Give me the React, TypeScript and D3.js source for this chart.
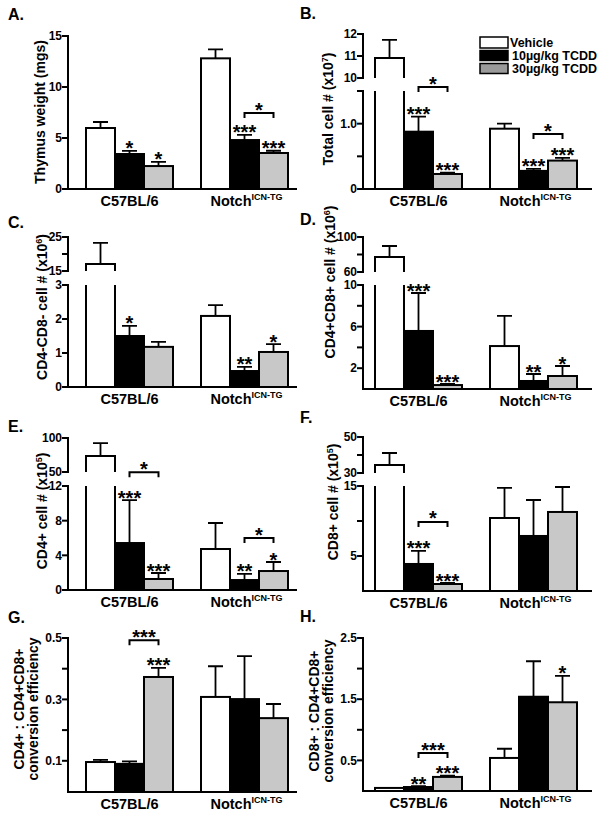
import React from "react";
import * as d3 from "d3";

const groups = ["C57BL/6", "Notch"];
const series = ["Vehicle", "10µg/kg TCDD", "30µg/kg TCDD"];

// Panel A: thymus weight
const aMeans = [[5.98, 3.43, 2.25], [12.81, 4.8, 3.53]];
const aErrs = [[0.59, 0.3, 0.4], [0.88, 0.5, 0.22]];
const aStars = [["", "*", "*"], ["", "***", "***"]];
// Panel B: total cell
const bMeans = [[10.91, 0.877, 0.23], [0.923, 0.277, 0.435]];
const bErrs = [[0.82, 0.23, 0.02], [0.077, 0.03, 0.04]];
const bStars = [["", "***", "***"], ["", "***", "***"]];
// Panel C: CD4-CD8-
const cMeans = [[17.06, 1.5, 1.18], [2.09, 0.47, 1.03]];
const cErrs = [[6.2, 0.3, 0.15], [0.32, 0.12, 0.23]];
const cStars = [["", "*", ""], ["", "**", "*"]];
// Panel D: CD4+CD8+
const dMeans = [[77.1, 5.58, 0.38], [4.13, 0.77, 1.25]];
const dErrs = [[12.6, 3.65, 0.1], [2.9, 0.67, 0.96]];
const dStars = [["", "***", "***"], ["", "**", "*"]];
// Panel E: CD4+
const eMeans = [[73.5, 5.42, 1.27], [4.73, 1.15, 2.19]];
const eErrs = [[19.1, 4.96, 0.69], [3.0, 0.7, 1.04]];
const eStars = [["", "***", "***"], ["", "**", "*"]];
// Panel F: CD8+
const fMeans = [[34.4, 3.86, 1.0], [10.43, 7.86, 11.29]];
const fErrs = [[6.7, 1.86, 0.14], [4.3, 5.14, 3.57]];
const fStars = [["", "***", "***"], ["", "", ""]];
// Panel G: CD4+ conversion
const gMeans = [[0.096, 0.09, 0.373], [0.308, 0.301, 0.239]];
const gErrs = [[0.007, 0.008, 0.03], [0.1, 0.14, 0.046]];
const gStars = [["", "", "***"], ["", "", ""]];
// Panel H: CD8+ conversion
const hMeans = [[0.05, 0.065, 0.23], [0.54, 1.54, 1.45]];
const hErrs = [[0, 0.015, 0.02], [0.15, 0.58, 0.43]];
const hStars = [["", "**", "***"], ["", "", "*"]];

// Brackets: [group, fromSeries, toSeries, value, label]
const aBrackets: [number, number, number, number, string][] = [[1, 1, 2, 7.45, "*"]];
const bBrackets: [number, number, number, number, string][] = [[0, 1, 2, 1.56, "*"], [1, 1, 2, 0.84, "*"]];
const eBrackets: [number, number, number, number, string][] = [[0, 1, 2, 13.6, "*"], [1, 1, 2, 6.0, "*"]];
const fBrackets: [number, number, number, number, string][] = [[0, 1, 2, 9.86, "*"]];
const gBrackets: [number, number, number, number, string][] = [[0, 1, 2, 0.493, "***"]];
const hBrackets: [number, number, number, number, string][] = [[0, 1, 2, 0.62, "***"]];

// Tick values and labels
const aTicks = [0, 5, 10, 15];
const aTickLabels = ["0", "5", "10", "15"];
const bUpTicks = [10, 11, 12];
const bUpLabels = ["10", "11", "12"];
const bLoTicks = [0, 0.5, 1.0, 1.5];
const bLoLabels = ["0", "", "1.0", ""];
const cUpTicks = [15, 20, 25];
const cUpLabels = ["15", "", "25"];
const cLoTicks = [0, 1, 2, 3];
const cLoLabels = ["0", "1", "2", "3"];
const dUpTicks = [60, 80, 100];
const dUpLabels = ["60", "", "100"];
const dLoTicks = [2, 4, 6, 8, 10];
const dLoLabels = ["2", "", "6", "", "10"];
const eUpTicks = [50, 100];
const eUpLabels = ["50", "100"];
const eLoTicks = [0, 4, 8, 12];
const eLoLabels = ["0", "4", "8", "12"];
const fUpTicks = [30, 40, 50];
const fUpLabels = ["30", "", "50"];
const fLoTicks = [5, 10, 15];
const fLoLabels = ["5", "", "15"];
const gTicks = [0.1, 0.2, 0.3, 0.4, 0.5];
const gTickLabels = ["0.1", "", "0.3", "", "0.5"];
const hTicks = [0.5, 1.0, 1.5, 2.0, 2.5];
const hTickLabels = ["0.5", "", "1.5", "", "2.5"];

const FONT = "'Liberation Sans', Arial, Helvetica, sans-serif";
const fills = ["#ffffff", "#000000", "#c8c8c8"];
const legendFills = ["#ffffff", "#000000", "#9a9a9a"];

type Seg = { domain: [number, number]; range: [number, number]; ticks: number[]; labels: string[] };
type Panel = {
  letter: string;
  letterPos: [number, number];
  col: number;
  means: number[][];
  errs: number[][];
  stars: string[][];
  brackets: [number, number, number, number, string][];
  lower: Seg;
  upper?: Seg;
  title: { lines: { text: string; sup?: string }[]; xs: number[]; y: number };
};

const cols = [
  { axisX: 68, xEnd: 297, bars: [86, 288] as [number, number] },
  { axisX: 363, xEnd: 592, bars: [375, 577] as [number, number] },
];

const panels: Panel[] = [
  {
    letter: "A.", letterPos: [8, 20], col: 0, means: aMeans, errs: aErrs, stars: aStars, brackets: aBrackets,
    lower: { domain: [0, 15], range: [189, 36], ticks: aTicks, labels: aTickLabels },
    title: { lines: [{ text: "Thymus weight (mgs)" }], xs: [40], y: 112 },
  },
  {
    letter: "B.", letterPos: [300, 19], col: 1, means: bMeans, errs: bErrs, stars: bStars, brackets: bBrackets,
    lower: { domain: [0, 1.5], range: [189, 91], ticks: bLoTicks, labels: bLoLabels },
    upper: { domain: [10, 12], range: [78, 34], ticks: bUpTicks, labels: bUpLabels },
    title: { lines: [{ text: "Total cell # (x10", sup: "7" }], xs: [328], y: 109 },
  },
  {
    letter: "C.", letterPos: [8, 228], col: 0, means: cMeans, errs: cErrs, stars: cStars, brackets: [],
    lower: { domain: [0, 3], range: [387, 285], ticks: cLoTicks, labels: cLoLabels },
    upper: { domain: [15, 25], range: [271, 237], ticks: cUpTicks, labels: cUpLabels },
    title: { lines: [{ text: "CD4-CD8- cell # (x10", sup: "6" }], xs: [42], y: 307 },
  },
  {
    letter: "D.", letterPos: [300, 225], col: 1, means: dMeans, errs: dErrs, stars: dStars, brackets: [],
    lower: { domain: [0, 10], range: [389, 285], ticks: dLoTicks, labels: dLoLabels },
    upper: { domain: [60, 100], range: [272, 237], ticks: dUpTicks, labels: dUpLabels },
    title: { lines: [{ text: "CD4+CD8+ cell # (x10", sup: "6" }], xs: [330], y: 282 },
  },
  {
    letter: "E.", letterPos: [8, 432], col: 0, means: eMeans, errs: eErrs, stars: eStars, brackets: eBrackets,
    lower: { domain: [0, 12], range: [590, 486], ticks: eLoTicks, labels: eLoLabels },
    upper: { domain: [50, 100], range: [472, 438], ticks: eUpTicks, labels: eUpLabels },
    title: { lines: [{ text: "CD4+ cell # (x10", sup: "5" }], xs: [42], y: 511 },
  },
  {
    letter: "F.", letterPos: [300, 423], col: 1, means: fMeans, errs: fErrs, stars: fStars, brackets: fBrackets,
    lower: { domain: [0, 15], range: [591, 486], ticks: fLoTicks, labels: fLoLabels },
    upper: { domain: [30, 50], range: [473, 437], ticks: fUpTicks, labels: fUpLabels },
    title: { lines: [{ text: "CD8+ cell # (x10", sup: "5" }], xs: [333], y: 502 },
  },
  {
    letter: "G.", letterPos: [8, 623], col: 0, means: gMeans, errs: gErrs, stars: gStars, brackets: gBrackets,
    lower: { domain: [0, 0.5], range: [791.5, 638], ticks: gTicks, labels: gTickLabels },
    title: { lines: [{ text: "CD4+ : CD4+CD8+" }, { text: "conversion efficiency" }], xs: [19, 33], y: 709 },
  },
  {
    letter: "H.", letterPos: [300, 622], col: 1, means: hMeans, errs: hErrs, stars: hStars, brackets: hBrackets,
    lower: { domain: [0, 2.5], range: [791, 638], ticks: hTicks, labels: hTickLabels },
    title: { lines: [{ text: "CD8+ : CD4+CD8+" }, { text: "conversion efficiency" }], xs: [314, 328], y: 711 },
  },
];

function PanelView({ p }: { p: Panel }) {
  const c = cols[p.col];
  const xG = d3.scaleBand<string>().domain(groups).range(c.bars).paddingInner(0.2435).paddingOuter(0);
  const xS = d3.scaleBand<string>().domain(series).range([0, xG.bandwidth()]).padding(0);
  const lo = d3.scaleLinear().domain(p.lower.domain).range(p.lower.range);
  const up = p.upper ? d3.scaleLinear().domain(p.upper.domain).range(p.upper.range) : null;
  const loMax = p.lower.domain[1];
  const yOf = (v: number) => (up && v > loMax ? up(v) : lo(v));
  const baseY = Math.round(p.lower.range[0]);
  const els: React.ReactNode[] = [];
  const sw = 2;
  const starSize = 20;

  groups.forEach((g, gi) => {
    series.forEach((s, si) => {
      const v = p.means[gi][si];
      const e = p.errs[gi][si];
      const x0 = (xG(g) as number) + (xS(s) as number);
      const w = xS.bandwidth();
      const cx = x0 + w / 2;
      const key = `${gi}-${si}`;
      if (up && v > loMax) {
        const yTopLow = lo(loMax);
        els.push(<rect key={key + "lf"} x={x0} y={yTopLow} width={w} height={baseY - yTopLow} fill={fills[si]} />);
        els.push(
          <path key={key + "ls"} d={`M${x0},${baseY}V${yTopLow}M${x0 + w},${yTopLow}V${baseY}`} stroke="#000" strokeWidth={sw} fill="none" />
        );
        const yv = up(v);
        const yb = up(p.upper!.domain[0]);
        els.push(<rect key={key + "uf"} x={x0} y={yv} width={w} height={yb - yv} fill={fills[si]} />);
        els.push(
          <path key={key + "us"} d={`M${x0},${yb}V${yv}H${x0 + w}V${yb}`} stroke="#000" strokeWidth={sw} fill="none" />
        );
      } else {
        const yv = lo(v);
        els.push(
          <rect key={key + "r"} x={x0} y={yv} width={w} height={Math.max(0, baseY - yv)} fill={fills[si]} stroke="#000" strokeWidth={sw} />
        );
      }
      const yv = yOf(v);
      const ye = yOf(v + e);
      if (e > 0) {
        els.push(
          <path key={key + "e"} d={`M${cx},${yv}V${ye}M${cx - 7.5},${ye}H${cx + 7.5}`} stroke="#000" strokeWidth={1.8} fill="none" />
        );
      }
      const st = p.stars[gi][si];
      if (st) {
        els.push(
          <text key={key + "s"} x={cx} y={ye + 4.5} textAnchor="middle" fontSize={starSize} fontWeight="bold" fontFamily={FONT}>
            {st}
          </text>
        );
      }
    });
  });

  p.brackets.forEach(([gi, a, b, v, label], i) => {
    const g = groups[gi];
    const xa = (xG(g) as number) + (xS(series[a]) as number) + xS.bandwidth() / 2;
    const xb = (xG(g) as number) + (xS(series[b]) as number) + xS.bandwidth() / 2;
    const y = lo(v);
    els.push(
      <path key={"br" + i} d={`M${xa},${y + 5}V${y}H${xb}V${y + 5}`} stroke="#000" strokeWidth={2} fill="none" />
    );
    els.push(
      <text key={"brt" + i} x={(xa + xb) / 2} y={y + 3.5} textAnchor="middle" fontSize={starSize} fontWeight="bold" fontFamily={FONT}>
        {label}
      </text>
    );
  });

  // axes
  const ax = c.axisX;
  const axisEls: React.ReactNode[] = [];
  const drawSeg = (seg: Seg, sc: d3.ScaleLinear<number, number>, tag: string, isLower: boolean) => {
    const yTop = sc(seg.domain[1]);
    const yBot = isLower ? baseY : sc(seg.domain[0]);
    axisEls.push(<line key={tag + "ax"} x1={ax} x2={ax} y1={yTop - 1} y2={yBot + 1} stroke="#000" strokeWidth={2} />);
    seg.ticks.forEach((t, i) => {
      const y = sc(t);
      axisEls.push(<line key={tag + "t" + i} x1={ax - 6} x2={ax} y1={y} y2={y} stroke="#000" strokeWidth={2} />);
      if (seg.labels[i]) {
        axisEls.push(
          <text key={tag + "l" + i} x={ax - 6} y={y + 4.2} textAnchor="end" fontSize={12} fontWeight="bold" fontFamily={FONT}>
            {seg.labels[i]}
          </text>
        );
      }
    });
  };
  drawSeg(p.lower, lo, "lo", true);
  if (up && p.upper) drawSeg(p.upper, up, "up", false);
  axisEls.push(<line key="xaxis" x1={ax - 1} x2={c.xEnd} y1={baseY} y2={baseY} stroke="#000" strokeWidth={2} />);

  // category labels
  groups.forEach((g, gi) => {
    const cx = (xG(g) as number) + xG.bandwidth() / 2;
    axisEls.push(
      gi === 0 ? (
        <text key={"cat" + gi} x={cx} y={baseY + 16.5} textAnchor="middle" fontSize={14.5} fontWeight="bold" fontFamily={FONT}>
          {g}
        </text>
      ) : (
        <text key={"cat" + gi} x={cx + 2} y={baseY + 16.5} textAnchor="middle" fontSize={14.5} fontWeight="bold" fontFamily={FONT}>
          {g}
          <tspan fontSize={9} dy={-5.5}>ICN-TG</tspan>
        </text>
      )
    );
  });

  // title
  p.title.lines.forEach((ln, i) => {
    const x = p.title.xs[i] + 5;
    const y = p.title.y;
    axisEls.push(
      <text key={"title" + i} transform={`translate(${x},${y}) rotate(-90)`} textAnchor="middle" fontSize={14} fontWeight="bold" fontFamily={FONT}>
        {ln.text}
        {ln.sup ? (
          <>
            <tspan fontSize={9} dy={-5.5}>{ln.sup}</tspan>
            <tspan dy={5.5}>)</tspan>
          </>
        ) : null}
      </text>
    );
  });

  return (
    <g>
      <text x={p.letterPos[0]} y={p.letterPos[1]} fontSize={16} fontWeight="bold" fontFamily={FONT}>
        {p.letter}
      </text>
      {els}
      {axisEls}
    </g>
  );
}

function Legend() {
  const ys = [37, 50.5, 63.5];
  const heights = [11, 10, 10];
  return (
    <g>
      {series.map((s, i) => (
        <g key={s}>
          <rect x={480} y={ys[i]} width={28} height={heights[i]} fill={legendFills[i]} stroke="#000" strokeWidth={1.5} />
          <text x={i === 0 ? 510 : 512} y={ys[i] + 9.5} fontSize={12.5} fontWeight="bold" fontFamily={FONT}>
            {s}
          </text>
        </g>
      ))}
    </g>
  );
}

export default function App() {
  return (
    <svg width={601} height={813} style={{ position: "absolute", left: 0, top: 0, background: "#fff" }}>
      <rect width={601} height={813} fill="#fff" />
      {panels.map((p) => (
        <PanelView key={p.letter} p={p} />
      ))}
      <Legend />
    </svg>
  );
}
